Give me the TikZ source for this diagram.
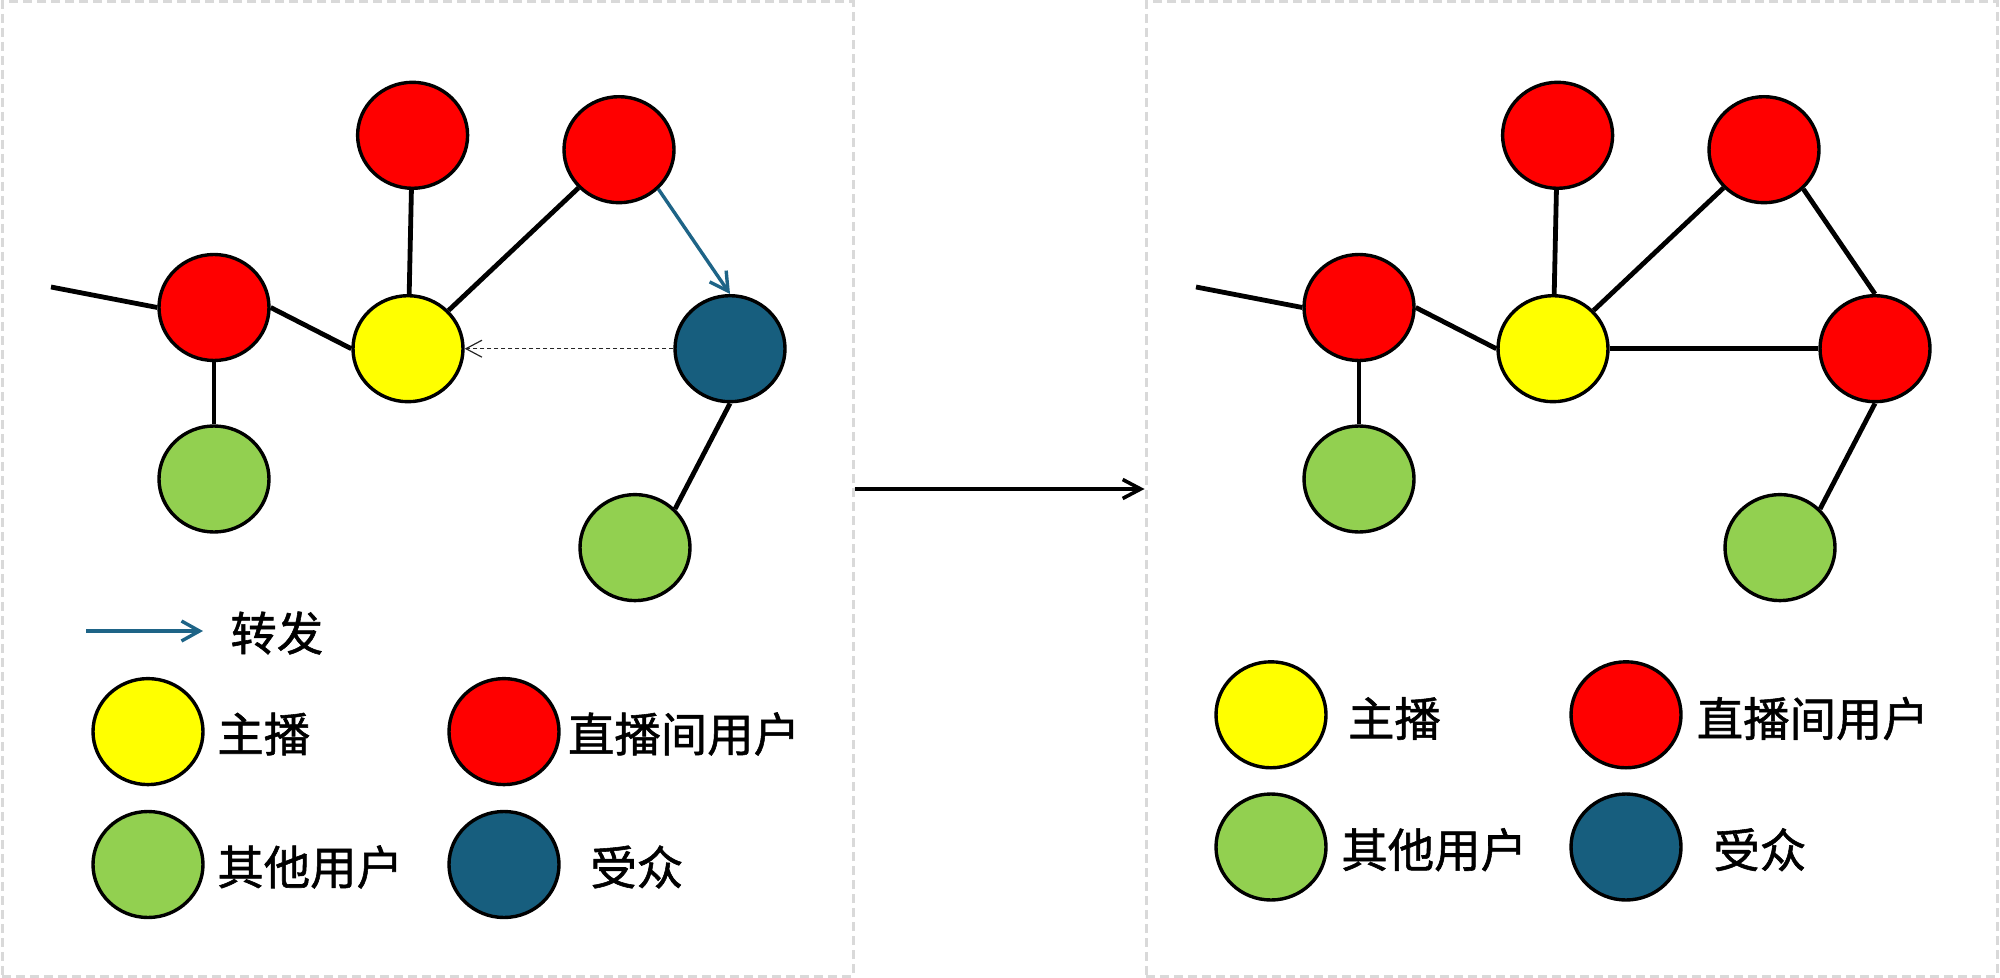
\documentclass[tikz,border=0pt]{standalone}
\usepackage{fontspec}
\newfontfamily\cjk[FakeBold=1.2]{Noto Sans CJK SC}
\usetikzlibrary{shapes.geometric,arrows.meta}
\definecolor{cred}{RGB}{255,0,0}
\definecolor{cyel}{RGB}{255,255,0}
\definecolor{cgreen}{RGB}{146,208,80}
\definecolor{cblue}{RGB}{23,94,126}
\definecolor{carrow}{RGB}{30,100,135}
\definecolor{cborder}{RGB}{217,217,217}
\begin{document}
\begin{tikzpicture}[x=0.5pt,y=-0.5pt,
  nd/.style={ellipse,draw=black,line width=1.7pt,minimum width=55pt,minimum height=53pt,inner sep=0pt},
  rednd/.style={nd,fill=cred},
  yelnd/.style={nd,fill=cyel},
  grnnd/.style={nd,fill=cgreen},
  blund/.style={nd,fill=cblue},
  edge/.style={line width=2.4pt,black},
  fwd/.style={line width=1.7pt,carrow,-{Straight Barb[length=9pt,width=10pt]}},
  back/.style={line width=0.6pt,black!85,dash pattern=on 2pt off 1.5pt,-{Straight Barb[length=8pt,width=8.5pt,line width=0.6pt]}},
  lbl/.style={font=\cjk\fontsize{23.2pt}{28pt}\selectfont,anchor=west,inner sep=0pt},
  panel/.style={rectangle,draw=cborder,line width=1.5pt,dash pattern=on 4.5pt off 2.5pt,minimum width=425.5pt,minimum height=487pt,inner sep=0pt}]
\useasboundingbox (0,0) rectangle (2000,978);
% panels
\node[panel] (lp) at (427.5,489) {};
\node[panel] (rp) at (1571.5,489) {};
\draw[line width=1.8pt,-{Straight Barb[length=9pt,width=9.5pt]}] (lp.east) -- (rp.west);

% ---------- left panel ----------
\node[rednd] (lt1) at (412.6,135.3) {};
\node[rednd] (lt2) at (619,149.7) {};
\node[rednd] (llr) at (214,307.5) {};
\node[yelnd] (ly) at (408,348.7) {};
\node[blund] (lb) at (730,348.7) {};
\node[grnnd] (lg1) at (214,479) {};
\node[grnnd] (lg2) at (635,547.6) {};
\coordinate (lstart) at (51,287);
\draw[edge] (lstart) -- (llr.west);
\draw[edge] (llr.east) -- (ly.west);
\draw[edge] (lt1) -- (ly);
\draw[edge] (ly) -- (lt2);
\draw[edge] (llr.south) -- (lg1.north);
\draw[edge] (lb.south) -- (lg2.44);
\draw[fwd] (lt2.-45) -- (lb.north);
\draw[back] (lb.west) -- (ly.east);

% left legend
\coordinate (la1) at (86,631);
\coordinate (la2) at (203,631);
\draw[fwd] (la1) -- (la2);
\node[lbl] (lt_fw) at (230,633) {转发};
\node[yelnd] (lk1) at (148,731.6) {};
\node[lbl] (lt_k1) at (217,734) {主播};
\node[rednd] (lk2) at (504,731.6) {};
\node[lbl] (lt_k2) at (567.6,734) {直播间用户};
\node[grnnd] (lk3) at (148,864.5) {};
\node[lbl] (lt_k3) at (217,867) {其他用户};
\node[blund] (lk4) at (504,864.5) {};
\node[lbl] (lt_k4) at (590,867) {受众};

% ---------- right panel ----------
\node[rednd] (rt1) at (1557.6,135.3) {};
\node[rednd] (rt2) at (1764,149.7) {};
\node[rednd] (rlr) at (1359,307.5) {};
\node[yelnd] (ry) at (1553,348.7) {};
\node[rednd] (rr) at (1875,348.7) {};
\node[grnnd] (rg1) at (1359,479) {};
\node[grnnd] (rg2) at (1780,547.6) {};
\coordinate (rstart) at (1196,287);
\draw[edge] (rstart) -- (rlr.west);
\draw[edge] (rlr.east) -- (ry.west);
\draw[edge] (rt1) -- (ry);
\draw[edge] (ry) -- (rt2);
\draw[edge] (rlr.south) -- (rg1.north);
\draw[edge] (rr.south) -- (rg2.44);
\draw[edge] (rt2.-45) -- (rr.north);
\draw[edge] (ry.east) -- (rr.west);

% right legend
\node[yelnd] (rk1) at (1271,714.8) {};
\node[lbl] (rt_k1) at (1347.6,718.5) {主播};
\node[rednd] (rk2) at (1626,714.8) {};
\node[lbl] (rt_k2) at (1696.4,718.5) {直播间用户};
\node[grnnd] (rk3) at (1271,847) {};
\node[lbl] (rt_k3) at (1341,849.7) {其他用户};
\node[blund] (rk4) at (1626,847) {};
\node[lbl] (rt_k4) at (1713,849.7) {受众};
\end{tikzpicture}
\end{document}
